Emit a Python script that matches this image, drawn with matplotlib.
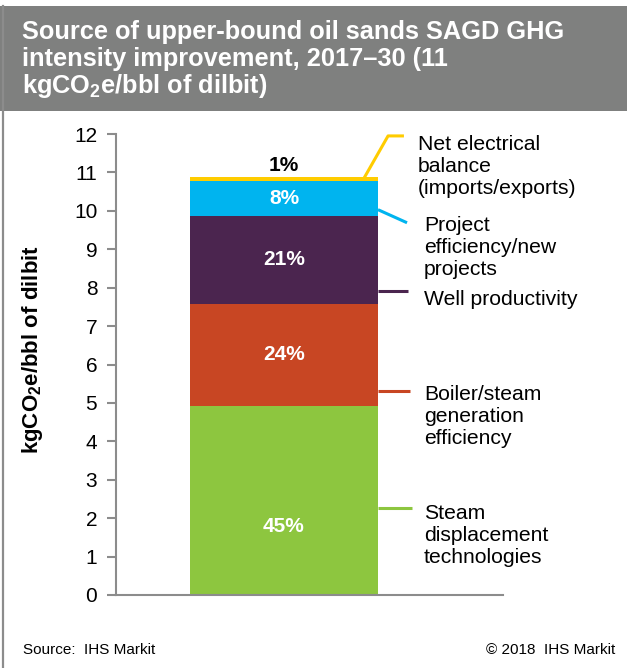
import matplotlib
matplotlib.use("Agg")
import matplotlib.pyplot as plt
import numpy as np
from matplotlib.lines import Line2D
from matplotlib.patches import Rectangle

# ── Data ──────────────────────────────────────────────────────────────────────
categories = [
    "Steam\ndisplacement\ntechnologies",
    "Boiler/steam\ngeneration\nefficiency",
    "Well productivity",
    "Project\nefficiency/new\nprojects",
    "Net electrical\nbalance\n(imports/exports)",
]
values = [4.92, 2.66, 2.29, 0.91, 0.09]          # kgCO2e/bbl
shares = ["45%", "24%", "21%", "8%", "1%"]
colors = ["#8DC63F", "#C84623", "#4B254F", "#00B4EF", "#FFCC00"]
yticks = list(range(0, 13))

# ── Layout (pixel-measured, data units on y) ──────────────────────────────────
W, H = 627, 668
label_pos = [0.36, 0.5, 0.5, 0.5]                 # fraction up each segment for % text
leader_y = [2.27, 5.31, 7.92, 10.03, 10.80]       # where leader leaves the bar
leader_y2 = [2.27, 5.31, 7.92, 9.69, 11.95]       # where leader ends
text_y = [1.56, 4.64, 7.68, 9.04, 11.15]          # centre of each text block

plt.rcParams["font.family"] = ["Liberation Sans", "DejaVu Sans"]
plt.rcParams["mathtext.fontset"] = "custom"
plt.rcParams["mathtext.rm"] = "Liberation Sans:bold"
plt.rcParams["mathtext.it"] = "Liberation Sans:bold"

fig = plt.figure(figsize=(W / 100, H / 100), dpi=100)

def fx(px):
    return px / W

def fy(py):
    return 1 - py / H

# header band + left frame
fig.patches.append(Rectangle((0, fy(111)), 1, fy(6) - fy(111), transform=fig.transFigure,
                             facecolor="#7f807f", edgecolor="none", zorder=0))
fig.lines.append(Line2D([fx(3), fx(3)], [0, fy(6)], transform=fig.transFigure,
                        color="#8c8c8c", lw=1.6))

title_lines = [
    "Source of upper-bound oil sands SAGD GHG",
    "intensity improvement, 2017–30 (11",
    "kgCO$_2$e/bbl of dilbit)",
]
for line, py in zip(title_lines, [32, 59, 86]):
    fig.text(fx(22), fy(py), line, color="white", fontsize=18.3, fontweight="bold",
             va="center", ha="left")

# axes
ax = fig.add_axes([fx(116), fy(595), fx(503) - fx(116), fy(134) - fy(595)])
bottoms = np.concatenate([[0], np.cumsum(values)[:-1]])
bar_w = 0.486
ax.bar(0, values, bottom=bottoms, width=bar_w, color=colors, edgecolor="none", zorder=2)
ax.set_xlim(-0.434, 0.566)
ax.set_ylim(0, 12)
ax.set_yticks(yticks)
ax.set_xticks([])
for s in ["top", "right"]:
    ax.spines[s].set_visible(False)
for s in ["left", "bottom"]:
    ax.spines[s].set_color("#8c8c8c")
    ax.spines[s].set_linewidth(1.5)
ax.tick_params(axis="y", direction="out", length=6.5, width=1.5, color="#8c8c8c",
               labelsize=15, pad=7)

# percentage labels
for i, (v, b, s) in enumerate(zip(values, bottoms, shares)):
    if i < len(label_pos):
        ax.text(0, b + v * label_pos[i], s, ha="center", va="center", color="white",
                fontsize=15, fontweight="bold", zorder=3)
    else:
        ax.text(0, b + v + 0.07, s, ha="center", va="bottom", color="black",
                fontsize=15, fontweight="bold", zorder=3)

# leader lines + category text
edge = bar_w / 2
for i, (cat, c) in enumerate(zip(categories, colors)):
    if i < 3:
        ax.plot([edge, 0.331 - 0.005 * i], [leader_y[i], leader_y2[i]], color=c, lw=2.2,
                clip_on=False, solid_capstyle="butt")
        tx = 0.362
    elif i == 3:
        ax.plot([edge, 0.318], [leader_y[i], leader_y2[i]], color=c, lw=2.2,
                clip_on=False, solid_capstyle="butt")
        tx = 0.362
    else:
        ax.plot([0.204, 0.269, 0.310], [leader_y[i], leader_y2[i], leader_y2[i]], color=c,
                lw=2.2, clip_on=False, solid_capstyle="butt")
        tx = 0.346
    ax.text(tx, text_y[i], cat, ha="left", va="center", fontsize=15.2, color="black",
            linespacing=1.2)

fig.text(fx(33), fy(350), "kgCO$_2$e/bbl of dilbit", rotation=90, ha="center", va="center",
         fontsize=16, fontweight="bold")

fig.text(fx(23), fy(650), "Source:  IHS Markit", fontsize=11, va="center", ha="left")
fig.text(fx(615), fy(650), "© 2018  IHS Markit", fontsize=11, va="center", ha="right")

fig.savefig("out.png", dpi=100)
